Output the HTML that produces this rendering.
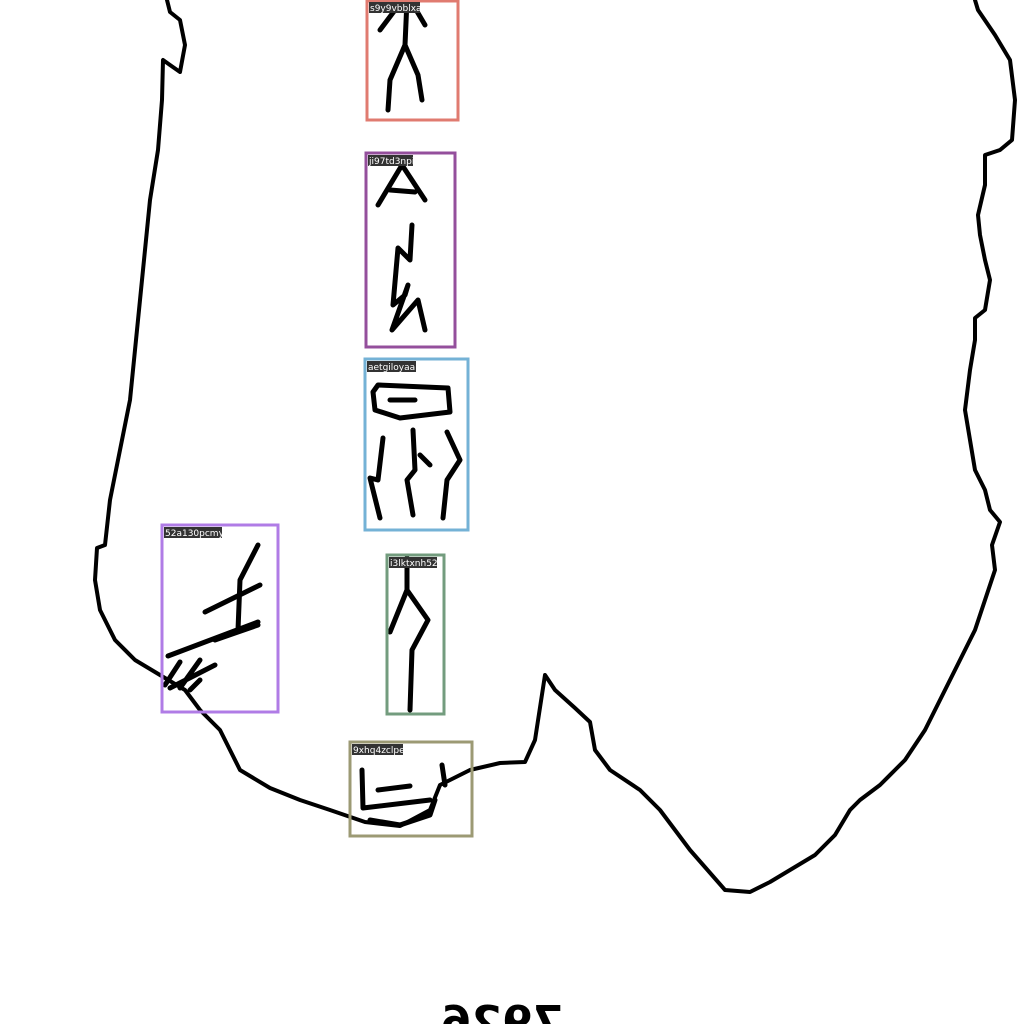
<!DOCTYPE html>
<html><head><meta charset="utf-8"><style>
html,body{margin:0;padding:0;background:#fff;width:1024px;height:1024px;overflow:hidden;font-family:"DejaVu Sans","Liberation Sans",sans-serif}
svg{display:block;overflow:hidden}
</style></head><body>
<svg width="1024" height="1024" viewBox="0 0 1024 1024">
<g fill="none" stroke="#000" stroke-width="4" stroke-linejoin="round" stroke-linecap="round">
<path d="M167,0 L170,12 L180,20 L185,45 L180,72 L170,65 L163,60 L162,100 L158,150 L150,200 L145,250 L140,300 L135,350 L130,400 L120,450 L110,500 L105,545 L97,548 L95,580 L100,610 L115,640 L135,660 L160,675 L185,690 L200,710 L220,730 L240,770 L270,788 L300,800 L330,810 L365,822 L400,826 L430,810 L440,785 L470,770 L500,763 L525,762 L535,740 L545,675 L555,690 L575,708 L590,722 L595,750 L610,770 L640,790 L660,810 L690,850 L725,890 L750,892 L770,882 L790,870 L815,855 L835,835 L850,810 L860,800 L880,785 L895,770 L905,760 L915,745 L925,730 L935,710 L945,690 L960,660 L975,630 L985,600 L995,570 L992,545 L1000,522 L990,510 L985,490 L975,470 L970,440 L965,410 L970,370 L975,340 L975,318 L985,310 L990,280 L985,260 L980,235 L978,215 L985,185 L985,155 L1000,150 L1012,140 L1015,100 L1010,60 L995,35 L978,10 L975,0"/>
<g stroke-width="5">
<path d="M380,30 L395,10 M425,25 L415,8 M407,0 L405,45 M405,45 L390,80 L388,110 M405,45 L418,75 L422,100"/></g>
<g stroke-width="5">
<path d="M378,205 L402,165 L425,200 M390,190 L415,192 M412,225 L410,260 L398,248 L393,305 L405,295 L408,285 L392,330 L418,300 L425,330"/></g>
<g stroke-width="5">
<path d="M378,385 L448,388 L450,412 L400,418 L375,410 L373,392 Z M390,400 L415,400 M383,438 L378,480 L370,478 L380,518 M413,430 L415,470 L407,480 L413,515 M447,432 L460,460 L447,480 L443,518 M420,455 L430,465"/></g>
<g stroke-width="5">
<path d="M258,545 L240,580 L238,630 M205,612 L260,585 M215,640 L258,625 M168,656 L258,622 M165,685 L180,662 M180,688 L200,660 M170,688 L215,665 M190,690 L200,680"/></g>
<g stroke-width="5">
<path d="M407,558 L407,590 L390,632 M407,590 L428,620 L412,650 L410,710"/></g>
<g stroke-width="5">
<path d="M362,770 L363,808 L430,800 M378,790 L410,786 M442,765 L445,785 M370,820 L400,825 L430,815 L435,800"/></g>
</g>
<g font-size="9" fill="#fff" stroke-width="3">
<rect x="367" y="1" width="91" height="119" fill="none" stroke="#e07b70"/>
<rect x="369" y="2" width="51" height="11" fill="#333"/><text x="370" y="11">s9y9vbblxa</text>
<rect x="366" y="153" width="89" height="194" fill="none" stroke="#944f9c"/>
<rect x="368" y="155" width="45" height="11" fill="#333"/><text x="369" y="164">ji97td3npi</text>
<rect x="365" y="359" width="103" height="171" fill="none" stroke="#74b2d6"/>
<rect x="367" y="361" width="49" height="11" fill="#333"/><text x="368" y="370">aetgiloyaa</text>
<rect x="162" y="525" width="116" height="187" fill="none" stroke="#b07ce6"/>
<rect x="164" y="527" width="58" height="11" fill="#333"/><text x="165" y="536">52a130pcmy</text>
<rect x="387" y="555" width="57" height="159" fill="none" stroke="#739c7e"/>
<rect x="389" y="557" width="48" height="11" fill="#333"/><text x="390" y="566">i3lktxnh52</text>
<rect x="350" y="742" width="122" height="94" fill="none" stroke="#9c9a74"/>
<rect x="352" y="744" width="51" height="11" fill="#333"/><text x="353" y="753">9xhq4zclpe</text>
</g>
<text x="502" y="1037" font-size="44" font-weight="bold" font-family="DejaVu Sans, sans-serif" fill="#000" text-anchor="middle" transform="translate(1004 0) scale(-1 1)">7926</text>
</svg>
</body></html>
